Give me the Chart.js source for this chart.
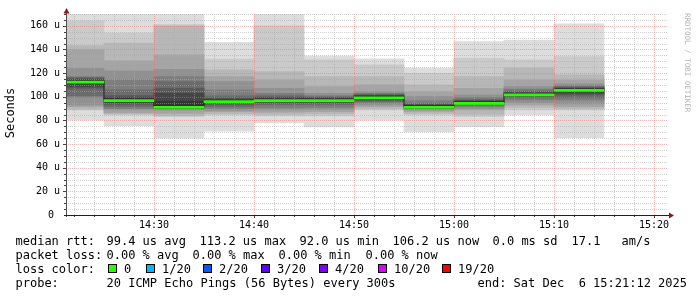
<!DOCTYPE html>
<html><head><meta charset="utf-8">
<script src="https://cdn.jsdelivr.net/npm/chart.js@4.4.1/dist/chart.umd.min.js"></script>
<style>html,body{margin:0;padding:0;background:#fff;overflow:hidden}canvas{display:block}</style>
</head><body>
<canvas id="c" width="697" height="297"></canvas>
<script>
// ---- data ----
const slotStarts = ['14:20','14:25','14:30','14:35','14:40','14:45','14:50','14:55','15:00','15:05','15:10'];
const stepMinutes = 5;
const axisStart = '14:21:12';
const axisEnd = '15:21:12';
// median RTT (us)
const medianRtt = [113.2, 97.6, 92.0, 96.8, 97.6, 97.6, 100.0, 92.0, 95.3, 102.4, 106.2];
// 20 sorted ping RTTs (us) per 5-minute slot
const p1420 = [80.4, 88.9, 89.5, 91.7, 93, 99.6, 101, 107.2, 108.5, 111, 114, 114.5, 115.5, 116.5, 117, 124.2, 139.7, 143.3, 164.2, 172];
const p1425 = [75.5, 84.6, 85.5, 86.5, 88.9, 90, 91.7, 93.5, 95, 96.5, 98.5, 99.5, 101, 105.8, 114.3, 121.9, 130.3, 145.3, 153.8, 172];
const p1430 = [65, 83.2, 84, 86, 88.9, 89.5, 90, 90.5, 91, 91.5, 96, 103, 107.2, 112.8, 117, 123.3, 135.4, 160, 161, 172];
const p1435 = [71, 84.6, 85.5, 87.4, 88.5, 90, 91.7, 93.5, 95, 96.2, 97.3, 98, 99, 100.7, 105.8, 112.8, 117, 122.7, 131.8, 146];
const p1440 = [77.8, 83.8, 85, 87, 88.9, 90.5, 93.1, 94.5, 95.8, 96.8, 98.3, 99, 99.8, 101, 103, 107.2, 114.3, 121.3, 160, 172];
const p1445 = [74.5, 83.8, 85.5, 87.4, 89, 91, 93.1, 94.5, 95.8, 96.8, 98.3, 98.8, 99.3, 100, 101, 103, 108.6, 117, 131.2, 134.5];
const p1450 = [80.5, 88.9, 90, 91.7, 93, 94.5, 95.9, 97, 98.2, 99.3, 100.6, 101.1, 101.6, 102.2, 103, 104.4, 110, 117, 127, 132];
const p1455 = [70.5, 84.6, 86, 87.5, 88.9, 89.6, 90.2, 90.7, 91.2, 91.6, 92.5, 93, 93.5, 94.5, 96.8, 100.1, 104.4, 110, 119.9, 124.2];
const p1500 = [74.7, 83.2, 85, 88.9, 90, 91.7, 92.8, 93.6, 94.3, 94.9, 95.9, 96.4, 97, 98, 99.5, 101.6, 107.2, 117, 132.6, 146.7];
const p1505 = [84.6, 89, 91, 93.1, 95, 97.3, 98.8, 100, 101, 101.9, 102.8, 103.3, 104, 105, 106.5, 108.6, 114.3, 124.2, 131.2, 148];
const p1510 = [65.4, 88.9, 90, 91.7, 94, 97.3, 99, 101.6, 103, 104.8, 106.7, 107.2, 107.8, 108.6, 109.5, 111, 114.3, 118.5, 134, 161.7];
const pingSlots = [p1420, p1425, p1430, p1435, p1440, p1445, p1450, p1455, p1500, p1505, p1510];

const yTicks = [0, 20, 40, 60, 80, 100, 120, 140, 160];
const yMax = 170;
const xTickLabels = ['14:30', '14:40', '14:50', '15:00', '15:10', '15:20'];

const lossLabels = ['0', '1/20', '2/20', '3/20', '4/20', '10/20', '19/20'];
const lossColors = ['#26ff00', '#00b8ff', '#0059ff', '#5e00ff', '#7e00ff', '#dd00ff', '#ff0000'];

const legendRow1 = ['median rtt:', '99.4 us avg', '113.2 us max', '92.0 us min', '106.2 us now', '0.0 ms sd', '17.1', 'am/s'];
const legendRow2 = ['packet loss:', '0.00 % avg', '0.00 % max', '0.00 % min', '0.00 % now'];
const legendRow3 = ['loss color:'];
const legendRow4 = ['probe:', '20 ICMP Echo Pings (56 Bytes) every 300s', 'end: Sat Dec  6 15:21:12 2025'];

// ---- layout / style ----
const row1X = [16, 107, 200, 300, 393, 493, 572, 622];
const row2X = [16, 107, 193, 279, 366];
const row4X = [16, 107, 478];
const lossBoxX = [108, 145.7, 202.7, 261, 319, 377.7, 441.7];
const rowY = [245, 259, 273, 287];
const smokeGrays = [];
for (let i = 1; i <= 10; i++) { const g = Math.floor(190 / 10 * (10 - i)) + 50; smokeGrays.push(`rgb(${g},${g},${g})`); }
const MONO = "'DejaVu Sans Mono', monospace";
const GRID_MINOR = 'rgba(170,170,170,0.55)';
const GRID_MAJOR = 'rgba(240,110,110,0.5)';

const toMin = s => { const p = s.split(':').map(Number); return p[0] * 60 + p[1] + (p[2] || 0) / 60; };
const fmtMin = v => { const h = Math.floor(v / 60), m = Math.round(v - h * 60); return h + ':' + String(m).padStart(2, '0'); };
const slotStartMin = slotStarts.map(toMin);
const slotCenter = slotStartMin.map(t => t + stepMinutes / 2);

// ---- datasets ----
const datasets = [];
for (let k = 0; k < 10; k++) {
  datasets.push({
    type: 'bar',
    data: pingSlots.map((p, i) => ({ x: slotCenter[i], y: [p[k], p[19 - k]] })),
    backgroundColor: smokeGrays[k],
    borderWidth: 0, borderSkipped: false,
    grouped: false, barPercentage: 1, categoryPercentage: 1,
    clip: 0, order: 20 - k
  });
}
const medianPts = slotStartMin.map((t, i) => ({ x: t, y: medianRtt[i] }));
medianPts.push({ x: slotStartMin[slotStartMin.length - 1] + stepMinutes, y: medianRtt[medianRtt.length - 1] });
datasets.push({
  type: 'line', data: medianPts, stepped: true,
  borderColor: '#202020', borderWidth: 1, pointRadius: 0, fill: false, clip: 0, order: 1
});
datasets.push({
  type: 'bar',
  data: medianRtt.map((m, i) => ({ x: slotCenter[i], y: [m - 1.7, m] })),
  backgroundColor: lossColors[0], borderWidth: 0, borderSkipped: false,
  grouped: false, barPercentage: 1, categoryPercentage: 1, clip: 0, order: 0
});

// ---- custom RRD-style decorations ----
const rrdPlugin = {
  id: 'rrd',
  afterDatasetDraw(chart, args) {
    if (args.index !== 9) return;
    const ctx = chart.ctx, xs = chart.scales.x, ys = chart.scales.y, a = chart.chartArea;
    ctx.save();
    ctx.lineWidth = 1;
    ctx.setLineDash([1, 1]);
    const x0 = Math.round(a.left), x1 = Math.round(a.right);
    const yT = Math.round(a.top), yB = Math.round(a.bottom);
    for (let v = 5; v <= yMax; v += 5) {
      const major = v % 20 === 0;
      const py = Math.round(ys.getPixelForValue(v)) + 0.5;
      ctx.strokeStyle = major ? GRID_MAJOR : GRID_MINOR;
      ctx.beginPath(); ctx.moveTo(x0 - 2, py); ctx.lineTo(x1 + 2, py); ctx.stroke();
    }
    for (let t = Math.ceil(xs.min / 2) * 2; t <= xs.max; t += 2) {
      const major = Math.round(t) % 10 === 0;
      const px = Math.round(xs.getPixelForValue(t)) + 0.5;
      ctx.strokeStyle = major ? GRID_MAJOR : GRID_MINOR;
      ctx.beginPath(); ctx.moveTo(px, yT); ctx.lineTo(px, yB + 2); ctx.stroke();
    }
    ctx.restore();
  },
  afterDraw(chart) {
    const ctx = chart.ctx, xs = chart.scales.x, ys = chart.scales.y, a = chart.chartArea;
    ctx.save();
    const x0 = Math.round(a.left), x1 = Math.round(a.right);
    const yB = Math.round(a.bottom);
    ctx.strokeStyle = '#404040'; ctx.lineWidth = 1;
    for (let v = 5; v <= yMax; v += 5) {
      const py = Math.round(ys.getPixelForValue(v)) + 0.5;
      const len = v % 20 === 0 ? 3 : 2;
      ctx.beginPath(); ctx.moveTo(x0 - len, py); ctx.lineTo(x0, py); ctx.stroke();
    }
    for (let t = Math.ceil(xs.min / 2) * 2; t <= xs.max; t += 2) {
      const px = Math.round(xs.getPixelForValue(t)) + 0.5;
      const len = Math.round(t) % 10 === 0 ? 3 : 2;
      ctx.beginPath(); ctx.moveTo(px, yB); ctx.lineTo(px, yB + len); ctx.stroke();
    }
    ctx.strokeStyle = '#505050';
    ctx.beginPath(); ctx.moveTo(x0 + 0.5, 10); ctx.lineTo(x0 + 0.5, yB + 2); ctx.stroke();
    ctx.strokeStyle = '#202020';
    ctx.beginPath(); ctx.moveTo(x0 - 2, yB + 0.5); ctx.lineTo(x1 + 4, yB + 0.5); ctx.stroke();
    ctx.fillStyle = 'rgb(140,28,28)';
    ctx.beginPath(); ctx.moveTo(x0 - 2.5, 13.5); ctx.lineTo(x0 + 3.5, 13.5); ctx.lineTo(x0 + 0.5, 8); ctx.closePath(); ctx.fill();
    ctx.beginPath(); ctx.moveTo(x1 + 3, yB - 2.5); ctx.lineTo(x1 + 3, yB + 3.5); ctx.lineTo(x1 + 8, yB + 0.5); ctx.closePath(); ctx.fill();
    ctx.fillStyle = '#000';
    ctx.font = '12px ' + MONO;
    ctx.save(); ctx.translate(11, 113); ctx.rotate(-Math.PI / 2);
    ctx.textAlign = 'center'; ctx.textBaseline = 'middle'; ctx.fillText('Seconds', 0, 0); ctx.restore();
    ctx.save(); ctx.translate(686.5, 13); ctx.rotate(Math.PI / 2);
    ctx.font = '7.5px ' + MONO; ctx.fillStyle = '#b4b4b4'; ctx.textAlign = 'left'; ctx.textBaseline = 'middle';
    ctx.fillText('RRDTOOL / TOBI OETIKER', 0, 0); ctx.restore();
    ctx.font = '12px ' + MONO; ctx.fillStyle = '#000'; ctx.textAlign = 'left'; ctx.textBaseline = 'alphabetic';
    legendRow1.forEach((s, i) => ctx.fillText(s, row1X[i] - 0.5, rowY[0]));
    legendRow2.forEach((s, i) => ctx.fillText(s, row2X[i] - 0.5, rowY[1]));
    ctx.fillText(legendRow3[0], 15.5, rowY[2]);
    legendRow4.forEach((s, i) => ctx.fillText(s, row4X[i] - 0.5, rowY[3]));
    lossLabels.forEach((lab, i) => {
      const bx = Math.round(lossBoxX[i]);
      ctx.fillStyle = lossColors[i];
      ctx.fillRect(bx, 264, 9, 9);
      ctx.strokeStyle = '#000'; ctx.lineWidth = 1;
      ctx.strokeRect(bx + 0.5, 264.5, 8, 8);
      ctx.fillStyle = '#000';
      ctx.fillText(lab, bx + 16, rowY[2]);
    });
    ctx.restore();
  }
};

new Chart(document.getElementById('c'), {
  type: 'bar',
  data: { datasets },
  options: {
    responsive: false, animation: false, devicePixelRatio: 1,
    layout: { padding: { left: 0, right: 31, top: 14, bottom: 0 } },
    plugins: { legend: { display: false }, tooltip: { enabled: false } },
    scales: {
      x: {
        type: 'linear', min: toMin(axisStart), max: toMin(axisEnd), offset: false,
        grid: { display: false, drawTicks: false, offset: false }, border: { display: false },
        afterBuildTicks: s => { s.ticks = xTickLabels.map(l => ({ value: toMin(l) })); },
        afterFit: s => { s.height = 82; },
        ticks: { autoSkip: false, maxRotation: 0, minRotation: 0, padding: 4, color: '#000',
          font: { family: MONO, size: 10 }, callback: v => fmtMin(v) }
      },
      y: {
        type: 'linear', min: 0, max: yMax,
        grid: { display: false, drawTicks: false }, border: { display: false },
        afterBuildTicks: s => { s.ticks = yTicks.map(v => ({ value: v })); },
        afterFit: s => { s.width = 66; },
        ticks: { padding: 6, color: '#000', font: { family: MONO, size: 10 },
          callback: v => v === 0 ? '0 ' : v + ' u' }
      }
    }
  },
  plugins: [rrdPlugin]
});
</script>
</body></html>
